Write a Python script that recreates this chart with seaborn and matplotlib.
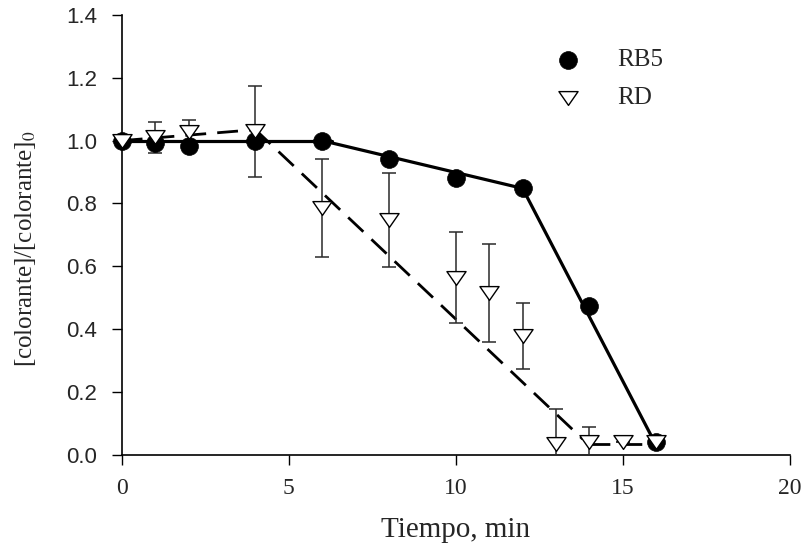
import numpy as np
import pandas as pd
import seaborn as sns
import matplotlib.pyplot as plt
from matplotlib.path import Path

# %% Data

# RB5 (filled circles)
rb5_t = [0, 1, 2, 4, 6, 8, 10, 12, 14, 16]
rb5_c = [1.0, 0.993, 0.984, 1.0, 1.0, 0.943, 0.882, 0.849, 0.475, 0.04]

# RD (open triangles) with error bars
rd_t = [0, 1, 2, 4, 6, 8, 10, 11, 12, 13, 14, 15, 16]
rd_c = [1.0, 1.01, 1.027, 1.03, 0.785, 0.748, 0.564, 0.515, 0.379, 0.035, 0.041, 0.04, 0.04]
rd_err = [0.0, 0.05, 0.04, 0.145, 0.155, 0.15, 0.145, 0.155, 0.105, 0.11, 0.048, 0.0, 0.0]

# fitted segments (solid: RB5, dashed: RD)
rb5_fit = [([0, 6.3], [1.0, 1.0]),
           ([6.0, 12.0], [1.0, 0.848]),
           ([12.0, 16.0], [0.848, 0.03])]
rd_fit = [([0, 4.0], [1.0, 1.035]),
          ([4.0, 13.8], [1.035, 0.05]),
          ([14.0, 16.0], [0.035, 0.035])]

# tick values
y_ticks = np.arange(0, 1.41, 0.2)
x_ticks = [0, 5, 10, 15, 20]

# %% Plot

sns.set_style("ticks")
plt.rcParams['font.family'] = ['Liberation Serif', 'DejaVu Serif']
plt.rcParams['mathtext.fontset'] = 'stix'

# flattened down-pointing triangle (closed path)
tri = Path([(-1, 0.72), (1, 0.72), (0, -0.72), (-1, 0.72)], closed=True)

fig = plt.figure(figsize=(8.06, 5.54), dpi=100)
ax = fig.add_axes([0.151, 0.179, 0.829, 0.794])

for xs, ys in rb5_fit:
    sns.lineplot(x=xs, y=ys, ax=ax, color='black', linewidth=2.3,
                 estimator=None, sort=False)
for xs, ys in rd_fit:
    sns.lineplot(x=xs, y=ys, ax=ax, color='black', linewidth=2.0,
                 estimator=None, sort=False, linestyle=(0, (7.5, 4)))

ax.errorbar(rd_t, rd_c, yerr=rd_err, fmt='none', ecolor='#2a2a2a',
            elinewidth=1.1, capsize=5, capthick=1.1, zorder=3)

df_rb5 = pd.DataFrame({'t': rb5_t, 'c': rb5_c})
df_rd = pd.DataFrame({'t': rd_t, 'c': rd_c})
sns.scatterplot(data=df_rb5, x='t', y='c', ax=ax, marker='o', s=165,
                color='black', edgecolor='black', linewidth=0.5,
                zorder=4, label='RB5', clip_on=False)
sns.scatterplot(data=df_rd, x='t', y='c', ax=ax, marker=tri, s=190,
                facecolor='white', edgecolor='black', linewidth=1.0,
                zorder=5, label='RD', clip_on=False)

ax.set_xlim(0, 20)
ax.set_ylim(0, 1.4)
ax.set_xticks(x_ticks)
ax.set_yticks(y_ticks)
ax.set_yticklabels(['%.1f' % v for v in y_ticks], family='Liberation Sans',
                   fontsize=16)
ax.tick_params(direction='out', length=7, width=1, color='black')
ax.tick_params(axis='x', labelsize=17, pad=9.5)
ax.tick_params(axis='y', pad=10.5)
for sp in ['left', 'bottom']:
    ax.spines[sp].set_linewidth(1.2)
    ax.spines[sp].set_color('black')
sns.despine(ax=ax)

ax.set_xlabel("Tiempo, min", fontsize=21)
ax.xaxis.set_label_coords(0.5, -0.141)
ax.set_ylabel("[colorante]/[colorante]$_0$", fontsize=18)
ax.yaxis.set_label_coords(-0.126, 0.47)

ax.legend(loc='upper left', bbox_to_anchor=(0.630, 0.923), frameon=False,
          fontsize=18, borderpad=0, borderaxespad=0, handlelength=2.0,
          handletextpad=1.0, labelspacing=0.61)

fig.savefig("out.png", dpi=100)
